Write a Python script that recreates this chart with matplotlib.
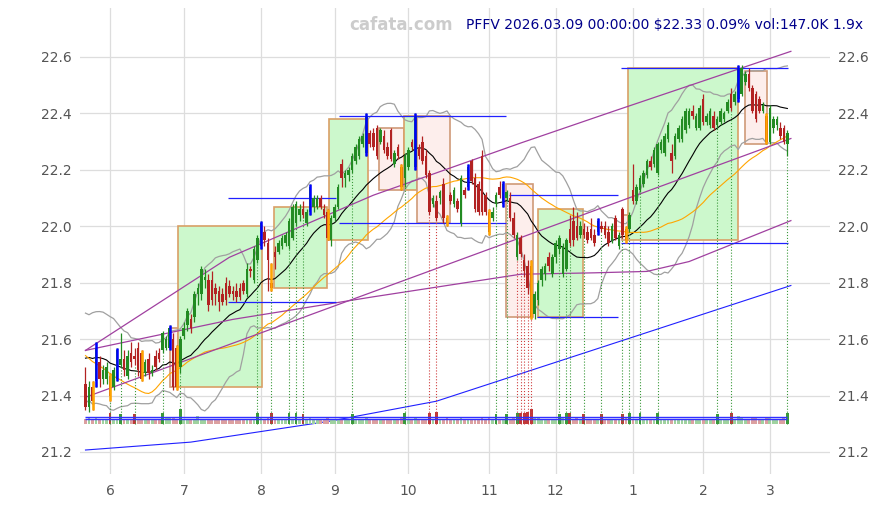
import matplotlib
matplotlib.use("Agg")
import matplotlib.pyplot as plt
import numpy as np
import pandas as pd
from matplotlib.patches import Rectangle

# ---------------- data ----------------
# closes before the first visible bar (implied by the starting indicator levels)
warmup_closes = [21.95, 21.93, 21.92, 21.90, 21.88, 21.92, 21.95, 21.93, 21.90, 21.86,
                 21.88, 21.90, 21.85, 21.82, 21.84, 21.80, 21.78,
                 21.55, 21.20, 20.95, 20.80, 20.90, 21.05, 20.98, 21.10, 21.15,
                 21.12, 21.20, 21.18, 21.25,
                 21.38, 21.45, 21.50, 21.48, 21.55, 21.60, 21.62, 21.58, 21.65, 21.63,
                 21.60, 21.58, 21.62, 21.55, 21.52, 21.55, 21.50, 21.48, 21.45]

opens = [21.44, 21.36, 21.43, 21.45, 21.52, 21.46, 21.46, 21.47, 21.43, 21.46,
         21.51, 21.53, 21.47, 21.55, 21.54, 21.57, 21.55, 21.48, 21.53, 21.48,
         21.54, 21.55, 21.56, 21.57, 21.57, 21.60, 21.57, 21.50, 21.61, 21.65,
         21.67, 21.68, 21.76, 21.76, 21.81, 21.81, 21.81, 21.78, 21.77, 21.76,
         21.80, 21.79, 21.77, 21.77, 21.78, 21.80, 21.76, 21.85, 21.81, 21.88,
         21.93, 21.98, 21.94, 21.80, 21.91, 21.91, 21.93, 21.94, 21.93, 21.96,
         22.01, 22.04, 22.06, 22.01, 22.05, 22.07, 22.07, 22.10, 22.06, 22.05,
         21.95, 22.03, 22.07, 22.22, 22.17, 22.18, 22.20, 22.23, 22.25, 22.29,
         22.26, 22.33, 22.33, 22.35, 22.30, 22.32, 22.28, 22.34, 22.22, 22.28,
         22.21, 22.17, 22.21, 22.30, 22.21, 22.28, 22.30, 22.25, 22.19, 22.08,
         22.09, 22.10, 22.15, 22.03, 22.11, 22.08, 22.09, 22.01, 22.13, 22.14,
         22.23, 22.17, 22.15, 22.25, 22.11, 22.05, 22.03, 22.08, 22.14, 22.08,
         22.10, 22.10, 22.03, 21.89, 21.96, 21.88, 21.86, 21.86, 21.69, 21.74,
         21.81, 21.83, 21.89, 21.83, 21.89, 21.92, 21.83, 21.85, 21.99, 22.02,
         22.00, 21.97, 21.99, 21.98, 21.99, 21.97, 21.98, 22.00, 22.00, 21.98,
         21.95, 22.03, 21.93, 22.06, 21.99, 21.99, 22.13, 22.09, 22.13, 22.15,
         22.18, 22.23, 22.22, 22.19, 22.27, 22.26, 22.31, 22.26, 22.25, 22.31,
         22.31, 22.34, 22.36, 22.41, 22.35, 22.35, 22.45, 22.37, 22.36, 22.39,
         22.36, 22.37, 22.38, 22.41, 22.47, 22.44, 22.45, 22.47, 22.51, 22.54,
         22.49, 22.47, 22.45, 22.41, 22.39, 22.30, 22.35, 22.36, 22.35, 22.35,
         22.29]

highs = [21.50, 21.45, 21.45, 21.59, 21.54, 21.51, 21.52, 21.48, 21.50, 21.57,
         21.62, 21.56, 21.56, 21.59, 21.57, 21.59, 21.56, 21.53, 21.55, 21.51,
         21.56, 21.57, 21.63, 21.61, 21.65, 21.62, 21.58, 21.61, 21.66, 21.71,
         21.69, 21.77, 21.80, 21.86, 21.85, 21.83, 21.84, 21.80, 21.79, 21.78,
         21.82, 21.81, 21.79, 21.80, 21.80, 21.81, 21.87, 21.86, 21.93, 21.97,
         22.02, 22.00, 21.96, 21.87, 21.93, 21.95, 21.97, 21.98, 22.03, 22.08,
         22.09, 22.08, 22.09, 22.06, 22.15, 22.11, 22.11, 22.11, 22.08, 22.06,
         22.04, 22.08, 22.15, 22.24, 22.20, 22.21, 22.26, 22.29, 22.32, 22.33,
         22.40, 22.34, 22.35, 22.36, 22.35, 22.34, 22.30, 22.35, 22.27, 22.29,
         22.22, 22.26, 22.28, 22.31, 22.40, 22.29, 22.32, 22.27, 22.20, 22.11,
         22.11, 22.13, 22.17, 22.04, 22.12, 22.14, 22.10, 22.18, 22.14, 22.22,
         22.24, 22.19, 22.16, 22.27, 22.12, 22.06, 22.07, 22.12, 22.16, 22.16,
         22.13, 22.12, 22.05, 21.98, 21.97, 21.90, 21.88, 21.88, 21.77, 21.81,
         21.86, 21.87, 21.91, 21.90, 21.95, 21.97, 21.94, 21.96, 22.04, 22.07,
         22.05, 22.02, 22.01, 22.00, 22.03, 21.99, 22.03, 22.02, 22.02, 22.00,
         22.01, 22.04, 21.98, 22.07, 22.00, 22.05, 22.22, 22.15, 22.18, 22.20,
         22.24, 22.25, 22.28, 22.30, 22.31, 22.33, 22.37, 22.29, 22.33, 22.36,
         22.39, 22.42, 22.42, 22.43, 22.40, 22.43, 22.47, 22.40, 22.42, 22.41,
         22.39, 22.42, 22.41, 22.45, 22.49, 22.48, 22.57, 22.57, 22.55, 22.56,
         22.50, 22.48, 22.46, 22.44, 22.40, 22.43, 22.39, 22.39, 22.37, 22.36,
         22.34]

lows = [21.35, 21.34, 21.35, 21.43, 21.43, 21.44, 21.44, 21.38, 21.42, 21.45,
        21.50, 21.47, 21.46, 21.50, 21.51, 21.47, 21.45, 21.47, 21.46, 21.47,
        21.49, 21.52, 21.55, 21.56, 21.56, 21.42, 21.42, 21.48, 21.60, 21.63,
        21.62, 21.66, 21.72, 21.74, 21.78, 21.70, 21.72, 21.72, 21.70, 21.72,
        21.72, 21.75, 21.74, 21.73, 21.74, 21.76, 21.75, 21.82, 21.80, 21.87,
        21.92, 21.93, 21.77, 21.77, 21.85, 21.90, 21.92, 21.93, 21.92, 21.95,
        22.00, 22.02, 22.03, 22.00, 22.04, 22.05, 22.06, 22.06, 22.03, 21.95,
        21.93, 22.02, 22.06, 22.14, 22.14, 22.16, 22.19, 22.22, 22.24, 22.28,
        22.25, 22.28, 22.27, 22.24, 22.29, 22.26, 22.24, 22.23, 22.21, 22.24,
        22.13, 22.14, 22.20, 22.27, 22.20, 22.24, 22.22, 22.17, 22.04, 22.07,
        22.02, 22.08, 22.01, 22.00, 22.08, 22.07, 22.05, 22.00, 22.10, 22.13,
        22.15, 22.05, 22.04, 22.04, 22.04, 21.97, 22.02, 22.07, 22.10, 22.07,
        22.09, 22.02, 21.96, 21.88, 21.89, 21.82, 21.76, 21.67, 21.67, 21.72,
        21.79, 21.81, 21.84, 21.82, 21.87, 21.90, 21.82, 21.84, 21.93, 21.93,
        21.95, 21.96, 21.96, 21.94, 21.95, 21.93, 21.97, 21.98, 21.96, 21.93,
        21.94, 21.95, 21.92, 21.96, 21.94, 21.98, 22.08, 22.08, 22.12, 22.14,
        22.17, 22.20, 22.21, 22.18, 22.26, 22.25, 22.30, 22.19, 22.24, 22.30,
        22.30, 22.33, 22.35, 22.38, 22.34, 22.34, 22.36, 22.36, 22.35, 22.34,
        22.35, 22.36, 22.37, 22.40, 22.41, 22.43, 22.44, 22.46, 22.50, 22.48,
        22.40, 22.37, 22.40, 22.40, 22.29, 22.29, 22.33, 22.34, 22.31, 22.29,
        22.25]

closes = [21.36, 21.43, 21.38, 21.57, 21.46, 21.49, 21.50, 21.40, 21.49, 21.56,
          21.53, 21.49, 21.54, 21.52, 21.53, 21.49, 21.46, 21.52, 21.48, 21.49,
          21.50, 21.53, 21.62, 21.60, 21.64, 21.43, 21.43, 21.60, 21.64, 21.70,
          21.64, 21.76, 21.78, 21.85, 21.82, 21.72, 21.74, 21.76, 21.73, 21.73,
          21.74, 21.76, 21.76, 21.75, 21.75, 21.77, 21.85, 21.84, 21.92, 21.96,
          22.01, 21.95, 21.88, 21.78, 21.89, 21.94, 21.96, 21.97, 22.02, 22.07,
          22.08, 22.06, 22.04, 22.05, 22.14, 22.10, 22.10, 22.07, 22.04, 21.96,
          22.03, 22.07, 22.14, 22.17, 22.19, 22.20, 22.25, 22.28, 22.31, 22.32,
          22.39, 22.29, 22.28, 22.25, 22.34, 22.27, 22.25, 22.24, 22.26, 22.25,
          22.14, 22.25, 22.27, 22.28, 22.39, 22.25, 22.23, 22.18, 22.05, 22.10,
          22.03, 22.12, 22.03, 22.01, 22.09, 22.13, 22.06, 22.17, 22.11, 22.21,
          22.16, 22.06, 22.05, 22.05, 22.05, 21.98, 22.05, 22.11, 22.11, 22.15,
          22.12, 22.03, 21.97, 21.97, 21.90, 21.84, 21.78, 21.68, 21.76, 21.80,
          21.85, 21.86, 21.86, 21.89, 21.94, 21.96, 21.93, 21.95, 21.94, 21.95,
          21.96, 22.00, 21.97, 21.95, 21.96, 21.94, 22.02, 21.99, 21.97, 21.94,
          22.00, 21.96, 21.97, 21.97, 21.95, 22.04, 22.09, 22.14, 22.17, 22.19,
          22.23, 22.21, 22.27, 22.29, 22.30, 22.32, 22.36, 22.23, 22.32, 22.35,
          22.38, 22.41, 22.41, 22.39, 22.39, 22.42, 22.37, 22.39, 22.41, 22.35,
          22.38, 22.41, 22.40, 22.44, 22.42, 22.47, 22.56, 22.56, 22.54, 22.49,
          22.41, 22.38, 22.41, 22.43, 22.30, 22.42, 22.38, 22.38, 22.32, 22.30,
          22.33]

volumes_k = [70, 85, 60, 75, 55, 62, 58, 140, 66, 72,
             135, 64, 58, 61, 130, 67, 70, 55, 62, 68,
             60, 57, 150, 75, 80, 88, 72, 190, 66, 59,
             63, 70, 110, 66, 60, 72, 58, 61, 64, 55,
             66, 70, 58, 62, 60, 57, 68, 60, 70, 145,
             75, 66, 82, 150, 64, 60, 58, 62, 138, 70,
             142, 65, 136, 60, 78, 62, 58, 61, 66, 85,
             70, 64, 68, 72, 60, 58, 132, 64, 60, 66,
             80, 68, 62, 70, 58, 60, 66, 64, 59, 62,
             85, 140, 66, 60, 95, 64, 68, 70, 150, 62,
             160, 66, 72, 80, 60, 58, 62, 78, 60, 70,
             66, 72, 64, 75, 62, 82, 60, 130, 66, 70,
             135, 68, 75, 140, 150, 145, 160, 190, 92, 80,
             70, 66, 62, 68, 72, 135, 75, 140, 138, 70,
             95, 66, 132, 62, 58, 60, 66, 130, 60, 64,
             62, 70, 66, 135, 85, 140, 72, 68, 145, 66,
             70, 62, 65, 138, 60, 64, 66, 72, 60, 62,
             64, 60, 66, 62, 58, 60, 70, 62, 64, 60,
             132, 66, 62, 64, 140, 70, 110, 82, 72, 70,
             75, 78, 70, 66, 88, 80, 72, 68, 70, 74,
             147]

pivot_high_idx = [3, 9, 24, 50, 64, 80, 94, 109, 119, 146, 186]
pivot_low_idx = [2, 7, 16, 26, 53, 69, 90, 103, 115, 127, 154, 194]

vmark_up_idx = [7, 10, 14, 22, 27, 49, 53, 58, 60, 62, 76, 91, 117, 120, 135, 137,
                138, 142, 147, 153, 155, 158, 163, 180, 184, 200]
vmark_dn_idx = [98, 100, 123, 124, 125, 126, 127]

# range boxes
box_start = [24.2, 26.3, 53.6, 69.5, 83.5, 90.9, 94.6, 119.7, 128.8, 152.8, 154.7, 188.0]
box_end = [26.3, 50.4, 68.7, 80.6, 90.9, 94.6, 104.0, 127.6, 141.9, 154.7, 186.0, 194.3]
box_low = [21.43, 21.43, 21.78, 21.95, 22.13, 22.13, 22.01, 21.68, 21.68, 21.95, 21.95, 22.29]
box_high = [21.64, 22.00, 22.07, 22.38, 22.35, 22.39, 22.39, 22.15, 22.06, 22.04, 22.56, 22.55]
box_up = [False, True, True, True, False, True, False, False, True, False, True, False]

# horizontal support / resistance segments
hl_start = [40.5, 40.5, 72.2, 72.2, 120.7, 128.6, 152.6, 152.6]
hl_end = [71.4, 71.4, 119.8, 119.8, 151.7, 151.7, 200.1, 200.1]
hl_val = [21.73, 22.10, 22.39, 22.01, 22.11, 21.68, 22.56, 21.94]

# trend lines
upper_idx = [0, 41, 82, 124, 151, 201]
upper_val = [21.56, 21.89, 22.11, 22.295, 22.41, 22.62]
lower_idx = [0, 201]
lower_val = [21.394, 22.311]
mid_idx = [0, 42, 82, 124, 145, 160, 172, 201]
mid_val = [21.56, 21.67, 21.75, 21.83, 21.835, 21.84, 21.875, 22.02]
longblue_idx = [0, 30, 70, 100, 201]
longblue_val = [21.207, 21.235, 21.31, 21.38, 21.79]
vol_avg_lines = [21.317, 21.325]

month_tick_idx = [7, 28, 50, 71, 92, 115, 134, 156, 176, 195]
month_tick_lbl = ['6', '7', '8', '9', '10', '11', '12', '1', '2', '3']
y_ticks = [21.2, 21.4, 21.6, 21.8, 22.0, 22.2, 22.4, 22.6]

# ---------------- figure ----------------
o = np.array(opens); h = np.array(highs); l = np.array(lows); c = np.array(closes)
n = len(c)
idx = np.arange(n)

allc = pd.Series(warmup_closes + closes)
sma20 = allc.rolling(20).mean().values[-n:]
sd20 = allc.rolling(20).std(ddof=0).values[-n:]
sma50 = allc.rolling(50).mean().values[-n:]

fig = plt.figure(figsize=(8.76, 5.05), dpi=100)
ax = fig.add_axes([0.0913, 0.0614, 0.856, 0.9228])
ax.set_xlim(-1.57, 212.1)
ax.set_ylim(21.122, 22.7737)

# boxes
for s, e, lo, hi, up in zip(box_start, box_end, box_low, box_high, box_up):
    fc = '#ccf8cc' if up else '#fdeeec'
    ec = '#d9a066' if up else '#cf9a78'
    ax.add_patch(Rectangle((s, lo), e - s, hi - lo, facecolor=fc, edgecolor=ec,
                           lw=1.2, zorder=1))

# indicator lines
ax.plot(idx, sma20 + 2 * sd20, color='#a0a0a0', lw=0.9, zorder=2)
ax.plot(idx, sma20 - 2 * sd20, color='#a0a0a0', lw=0.9, zorder=2)
ax.plot(idx, sma20, color='black', lw=0.8, zorder=2)
ax.plot(idx, sma50, color='#ffa500', lw=0.8, zorder=2)
ax.plot(upper_idx, upper_val, color='#a040a0', lw=0.9, zorder=2)
ax.plot(lower_idx, lower_val, color='#a040a0', lw=0.9, zorder=2)
ax.plot(mid_idx, mid_val, color='#a040a0', lw=0.9, zorder=2)
ax.plot(longblue_idx, longblue_val, color='#2020ff', lw=0.8, zorder=2)
ax.hlines(hl_val, hl_start, hl_end, colors='#2020ff', lw=0.9, zorder=2)

# volume bars
vol = np.array(volumes_k, dtype=float)
vol_base = 21.299
vol_scale = 0.021 / 77.0
upc = c >= o
marked = set(vmark_up_idx) | set(vmark_dn_idx)
vcols = []
for i in range(n):
    if i in marked:
        vcols.append('#3a9a3a' if upc[i] else '#c03838')
    else:
        vcols.append('#9fd29f' if upc[i] else '#dca0a0')
ax.bar(idx, vol * vol_scale, bottom=vol_base, width=0.8, color=vcols, zorder=2)
ax.hlines(vol_avg_lines, 0, n - 1, colors='#3030ff', lw=1.0, zorder=3)

# dotted marker lines
ax.vlines(vmark_up_idx, vol_base, l[vmark_up_idx], colors='#3c9a3c', linestyles=':', lw=0.8, zorder=2)
ax.vlines(vmark_dn_idx, vol_base, l[vmark_dn_idx], colors='#d04040', linestyles=':', lw=0.8, zorder=2)

# candles
ccol = np.where(upc, '#228b22', '#b22222')
ax.vlines(idx, l, h, colors=ccol, lw=0.9, zorder=3)
body = np.where(np.abs(c - o) < 0.004, 0.004, c - o)
ax.bar(idx, body, bottom=o, width=0.72, color=ccol, zorder=4)
ax.vlines(pivot_high_idx, l[pivot_high_idx], h[pivot_high_idx], colors='#0000ff', lw=1.8, zorder=5)
ax.vlines(pivot_low_idx, l[pivot_low_idx], h[pivot_low_idx], colors='#ffa500', lw=1.8, zorder=5)

# axes styling
ax.set_xticks(month_tick_idx)
ax.set_xticklabels(month_tick_lbl)
ax.set_yticks(y_ticks)
ax.set_yticklabels(['%.1f' % v for v in y_ticks])
ax.grid(True, color='#dddddd', lw=0.9, zorder=0)
ax.set_axisbelow(True)
for sp in ax.spines.values():
    sp.set_visible(False)
ax.tick_params(axis='both', length=0, labelsize=10, labelcolor='#555555')
ax.tick_params(axis='y', labelright=True, pad=6)
ax.tick_params(axis='x', pad=7)

fig.text(0.4575, 0.950, 'cafata.com', color='#cccccc', fontsize=12,
         fontweight='bold', ha='center', va='center')
fig.text(0.985, 0.950, 'PFFV 2026.03.09 00:00:00 $22.33 0.09% vol:147.0K 1.9x',
         color='#00008b', fontsize=10, ha='right', va='center')

fig.savefig('out.png', dpi=100)
